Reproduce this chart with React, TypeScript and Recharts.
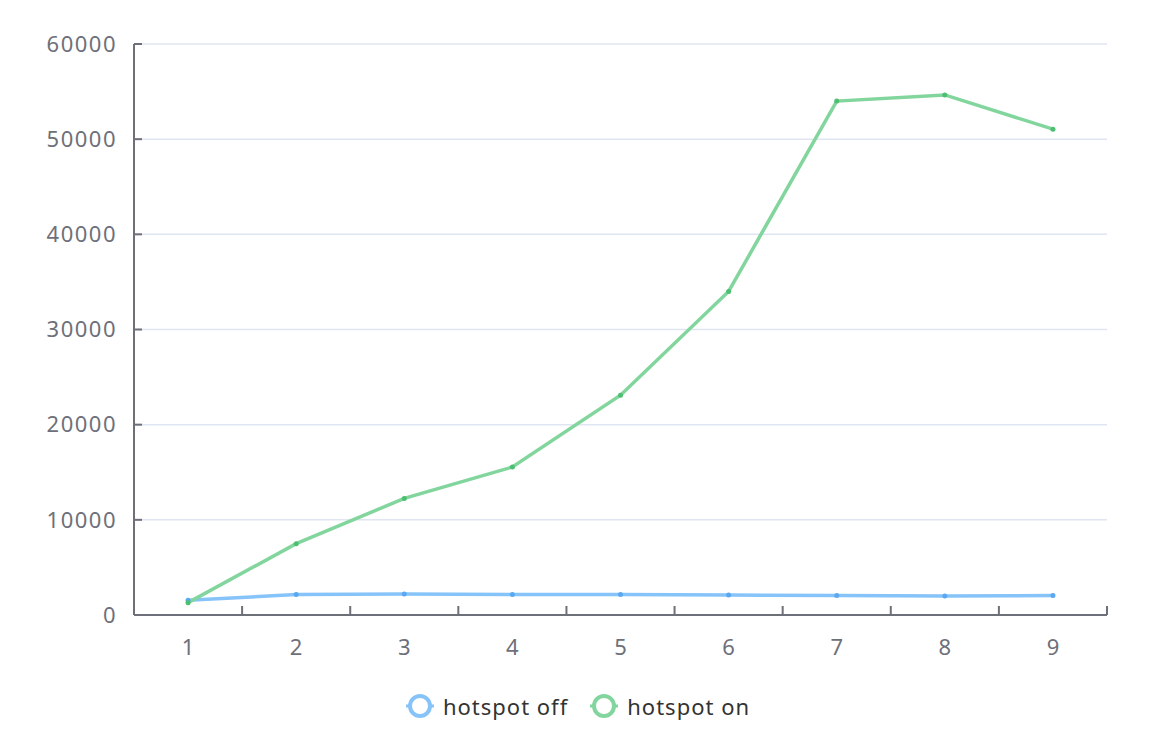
import { LineChart, Line, XAxis, YAxis, CartesianGrid, Legend } from 'recharts'

const runs = [1, 2, 3, 4, 5, 6, 7, 8, 9]
const hotspotOff = [1550, 2150, 2200, 2150, 2150, 2100, 2050, 2000, 2050]
const hotspotOn = [1300, 7500, 12250, 15550, 23100, 34000, 54000, 54650, 51050]
const yTicks = [0, 10000, 20000, 30000, 40000, 50000, 60000]
// label ticks sit on the runs, tick marks between them
const xTicks = [0.5, 1, 1.5, 2, 2.5, 3, 3.5, 4, 4.5, 5, 5.5, 6, 6.5, 7, 7.5, 8, 8.5, 9, 9.5]

const data = runs.map((run, i) => ({ run, off: hotspotOff[i], on: hotspotOn[i] }))

const FONT = '"Noto Sans", "Helvetica Neue", Arial, sans-serif'
const AXIS = '#6e7079'

function XTick(props: any) {
  const { x, y, payload } = props
  const v = payload.value as number
  if (Number.isInteger(v)) {
    return (
      <text x={x} y={y + 31} textAnchor="middle" dominantBaseline="central" fill={AXIS} fontSize={22} fontFamily={FONT}>
        {v}
      </text>
    )
  }
  return <line x1={x} x2={x} y1={y} y2={y - 9} stroke={AXIS} strokeWidth={2} />
}

function LegendContent(props: any) {
  const items = props.payload || []
  return (
    <div style={{ display: 'flex', justifyContent: 'center', alignItems: 'center', height: 40, fontFamily: FONT }}>
      {items.map((it: any, i: number) => (
        <div key={it.value} style={{ display: 'flex', alignItems: 'center', marginLeft: i ? 22 : 0 }}>
          <svg width={28} height={26}>
            <line x1={0} x2={28} y1={13} y2={13} stroke={it.color} strokeWidth={3} />
            <circle cx={14} cy={13} r={10} fill="#fff" stroke={it.color} strokeWidth={4} />
          </svg>
          <span style={{ fontSize: 22, letterSpacing: 1, color: '#333', marginLeft: 9 }}>{it.value}</span>
        </div>
      ))}
    </div>
  )
}

export default function App() {
  return (
    <div style={{ position: 'absolute', left: 0, top: 0, background: '#fff' }}>
      <LineChart width={1156} height={754} data={data} margin={{ top: 44, right: 49, left: 0, bottom: 28 }}>
        <CartesianGrid horizontal vertical={false} stroke="#e0e6f1" strokeWidth={1.5} />
        <XAxis
          dataKey="run"
          type="number"
          domain={[0.5, 9.5]}
          ticks={xTicks}
          interval={0}
          height={71}
          tickLine={false}
          tickSize={0}
          tickMargin={0}
          tick={<XTick />}
          axisLine={{ stroke: AXIS, strokeWidth: 2 }}
        />
        <YAxis
          domain={[0, 60000]}
          ticks={yTicks}
          width={134}
          tickSize={-8}
          tickMargin={25}
          tickLine={{ stroke: AXIS, strokeWidth: 2 }}
          axisLine={{ stroke: AXIS, strokeWidth: 2 }}
          tick={{ fill: AXIS, fontSize: 22, fontFamily: FONT, letterSpacing: 1.5 }}
        />
        <Legend
          verticalAlign="bottom"
          height={40}
          wrapperStyle={{ left: 0, width: 1156 }}
          content={<LegendContent />}
        />
        <Line
          name="hotspot off"
          dataKey="off"
          stroke="#86c3f9"
          strokeWidth={3.5}
          dot={{ r: 2.5, fill: '#5aa9f0', stroke: 'none' }}
          isAnimationActive={false}
        />
        <Line
          name="hotspot on"
          dataKey="on"
          stroke="#82d69d"
          strokeWidth={3.5}
          dot={{ r: 2.5, fill: '#4cbf70', stroke: 'none' }}
          isAnimationActive={false}
        />
      </LineChart>
    </div>
  )
}
